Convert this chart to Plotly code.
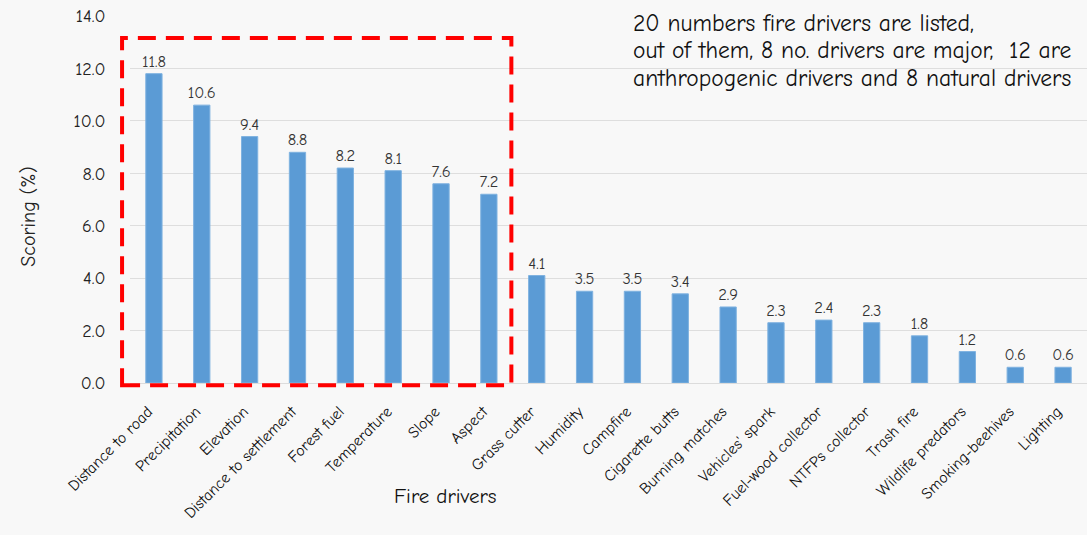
import plotly.graph_objects as go

categories = ["Distance to road", "Precipitation", "Elevation", "Distance to settlement",
              "Forest fuel", "Temperature", "Slope", "Aspect", "Grass cutter", "Humidity",
              "Campfire", "Cigarette butts", "Burning matches", "Vehicles' spark",
              "Fuel-wood collector", "NTFPs collector", "Trash fire", "Wildlife predators",
              "Smoking-beehives", "Lighting"]
scores = [11.8, 10.6, 9.4, 8.8, 8.2, 8.1, 7.6, 7.2, 4.1, 3.5, 3.5, 3.4, 2.9, 2.3, 2.4, 2.3,
          1.8, 1.2, 0.6, 0.6]
y_ticks = [0, 2, 4, 6, 8, 10, 12, 14]
note_lines = ["20 numbers fire drivers are listed,",
              "out of them, 8 no. drivers are major,  12 are",
              "anthropogenic drivers and 8 natural drivers"]

FONT = "Comic Sans MS, Comic Neue, Lato, sans-serif"

fig = go.Figure()
fig.add_trace(go.Bar(
    x=categories, y=scores,
    marker=dict(color="#5b9bd5", line=dict(color="#7fb2e0", width=1)),
    text=[f"{v:.1f}" for v in scores], textposition="outside",
    textangle=0, constraintext="none",
    textfont=dict(size=16.5, color="#333", family=FONT),
    cliponaxis=False,
))

# dashed box around the 8 major drivers (paper coordinates so it is not clipped)
fig.add_shape(type="rect", xref="paper", yref="paper", x0=-0.0083, x1=0.3985, y0=-0.006, y1=0.940,
              line=dict(color="#ff0000", width=4, dash="18px,10px"), layer="above")

for i, line in enumerate(note_lines):
    fig.add_annotation(xref="paper", yref="paper", x=0.524, y=1.022 - i * 0.075,
                       xanchor="left", yanchor="top", align="left", showarrow=False,
                       text=line, font=dict(size=23.5, color="#111", family=FONT))

fig.add_annotation(xref="paper", yref="paper", x=0.33, y=-0.27, xanchor="center", yanchor="top",
                   showarrow=False, text="Fire drivers",
                   font=dict(size=21, color="#111", family=FONT))

fig.add_annotation(xref="paper", yref="paper", x=-0.106, y=0.452, xanchor="center", yanchor="middle",
                   showarrow=False, text="Scoring (%)", textangle=-90,
                   font=dict(size=20, color="#222", family=FONT))

fig.update_layout(
    width=1087, height=535,
    margin=dict(l=130, r=0, t=16, b=152),
    paper_bgcolor="#f8f8f8", plot_bgcolor="#f8f8f8",
    bargap=0.66, showlegend=False,
    font=dict(family=FONT, color="#222"),
)
fig.update_xaxes(tickangle=-45, tickfont=dict(size=16, family=FONT, color="#111"),
                 showline=True, linecolor="#dcdcdc", linewidth=1, ticks="outside",
                 ticklen=12, tickcolor="rgba(0,0,0,0)", ticklabelshift=-6, automargin=False)
fig.update_yaxes(range=[0, 14], tickvals=y_ticks, tickformat=".1f",
                 tickfont=dict(size=18, family=FONT, color="#222"),
                 ticks="outside", ticklen=20, tickcolor="rgba(0,0,0,0)",
                 gridcolor="#dedede", gridwidth=1, zeroline=False, automargin=False)

fig.write_html("out.html")
